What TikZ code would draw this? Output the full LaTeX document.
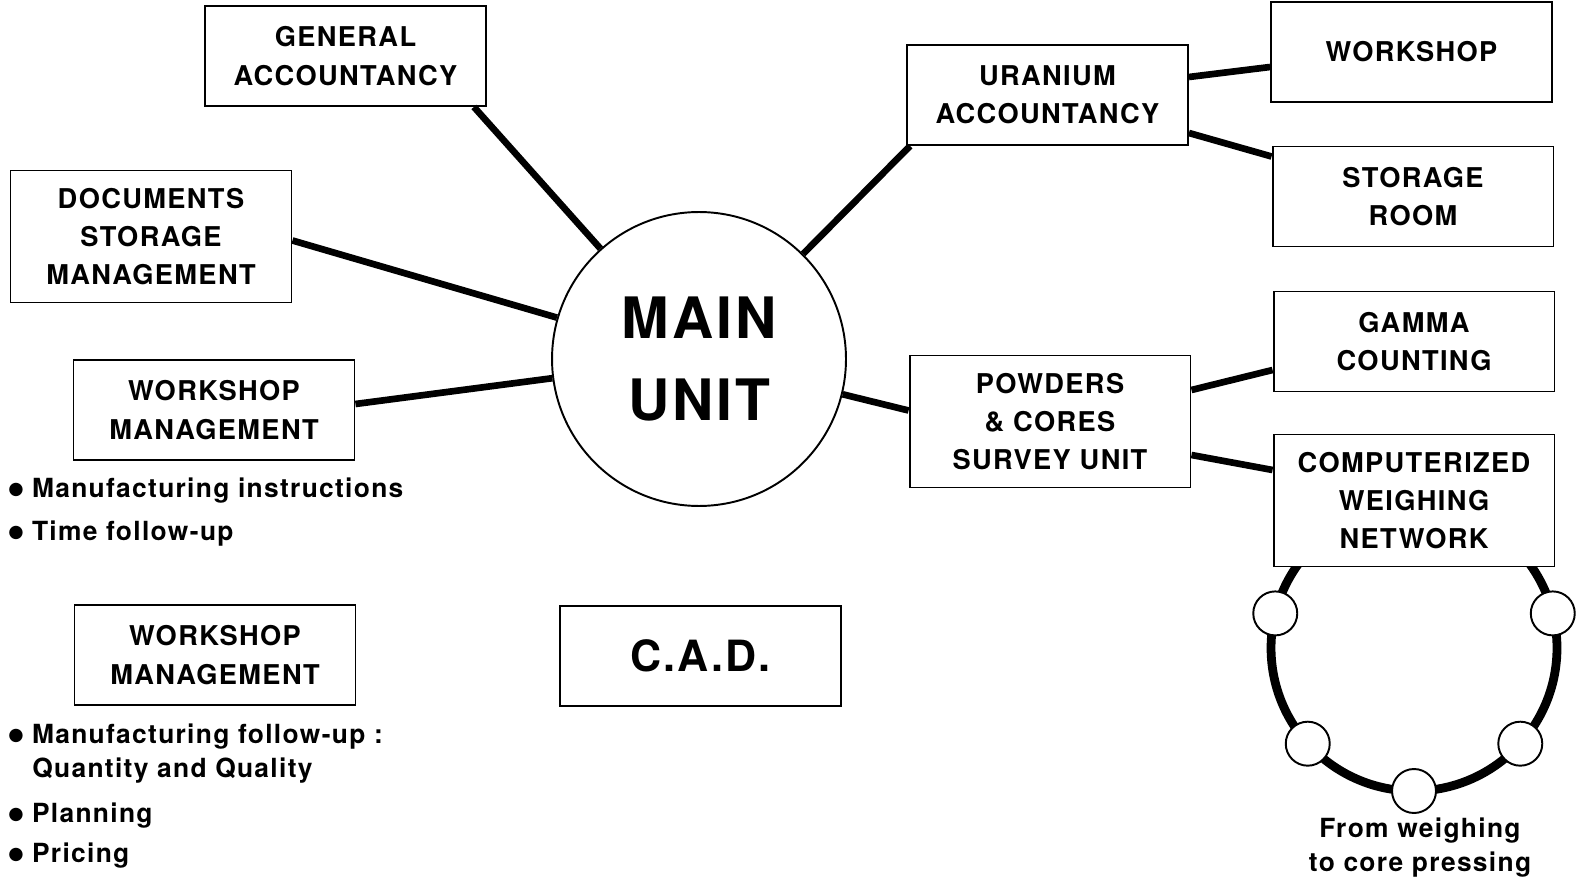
\documentclass[tikz,border=0pt]{standalone}
\usepackage{fontspec}
\setmainfont{TeX Gyre Heros}[LetterSpace=5]
\newfontfamily\dotfont{DejaVu Sans}
\usetikzlibrary{calc}
\newcommand\bul{\makebox[13.5pt][l]{\raisebox{1.6pt}{\dotfont\fontsize{10}{10}\selectfont ●}}}

\begin{document}
\begin{tikzpicture}[x=0.02cm,y=-0.02cm]
\tikzstyle{box}=[draw, line width=1.1pt, fill=white, inner sep=0pt, minimum width=5.62cm, minimum height=2cm, align=center, font=\fontsize{15.5}{21.8}\selectfont\bfseries]
\tikzstyle{tallbox}=[box, minimum height=2.64cm]
\tikzstyle{link}=[line width=3.8pt]
\tikzstyle{item}=[anchor=base west, inner sep=0pt, font=\fontsize{15}{17}\selectfont\bfseries]
\tikzstyle{station}=[circle, draw, line width=1.1pt, fill=white, minimum size=0.88cm, inner sep=0pt]
\useasboundingbox (0,0) rectangle (1577,881);
% weighing ring, partly hidden by its box
\coordinate (ring) at (1414,648);
\draw[line width=5pt] (ring) circle (2.86cm);
\node[box] (genacc) at (345.5,56) {GENERAL\\ACCOUNTANCY};
\node[tallbox] (docs) at (151,236.5) {DOCUMENTS\\STORAGE\\MANAGEMENT};
\node[box] (wsmA) at (214,410) {WORKSHOP\\MANAGEMENT};
\node[box] (wsmB) at (215,655) {WORKSHOP\\MANAGEMENT};
\node[box, font=\fontsize{24.5}{30}\selectfont\bfseries] (cad) at (700.5,656) {C.A.D.};
\node[circle, draw, line width=1.1pt, minimum size=5.88cm, inner sep=0pt, align=center, font=\fontsize{32.5}{46.5}\selectfont\bfseries] (main) at (699,359) {MAIN\\UNIT};
\node[box] (uran) at (1047.5,95) {URANIUM\\ACCOUNTANCY};
\node[box] (wshop) at (1411.5,52) {WORKSHOP};
\node[box] (store) at (1413,196.5) {STORAGE\\ROOM};
\node[tallbox] (survey) at (1050,421.5) {POWDERS\\\& CORES\\SURVEY UNIT};
\node[box] (gamma) at (1414,341.5) {GAMMA\\COUNTING};
\node[tallbox] (weigh) at (1414,500.5) {COMPUTERIZED\\WEIGHING\\NETWORK};
\foreach \a [count=\i] in {194,138,90,42,346}
  \node[station] (st\i) at ($(ring)+(\a:143)$) {};
% links to the main unit
\draw[link] (main) -- ($(genacc.south east)+(-13,0)$);
\draw[link] (main) -- ($(docs.east)+(0,4)$);
\draw[link] (main) -- ($(wsmA.east)+(0,-6)$);
\draw[link] (main) -- ($(uran.south west)+(4,0)$);
\draw[link] (main) -- ($(survey.west)+(0,-11)$);
\draw[link] ($(uran.east)+(0,-18)$) -- ($(wshop.west)+(0,15)$);
\draw[link] ($(uran.east)+(0,38)$) -- ($(store.west)+(0,-40)$);
\draw[link] ($(survey.east)+(0,-31.5)$) -- ($(gamma.west)+(0,28.5)$);
\draw[link] ($(survey.east)+(0,33.5)$) -- ($(weigh.west)+(0,-30.5)$);
% task lists
\node[item] (ins) at (8,497) {\bul Manufacturing instructions};
\node[item] (time) at (8,540) {\bul Time follow-up};
\node[item] (mfu) at (8,743) {\bul Manufacturing follow-up :};
\node[item] (qq) at (32,777) {Quantity and Quality};
\node[item] (plan) at (8,822) {\bul Planning};
\node[item] (price) at (8,862) {\bul Pricing};
\node[align=center, inner sep=0pt, font=\fontsize{15}{19.3}\selectfont\bfseries] (caption) at (1420,848) {From weighing\\to core pressing};
\end{tikzpicture}
\end{document}
